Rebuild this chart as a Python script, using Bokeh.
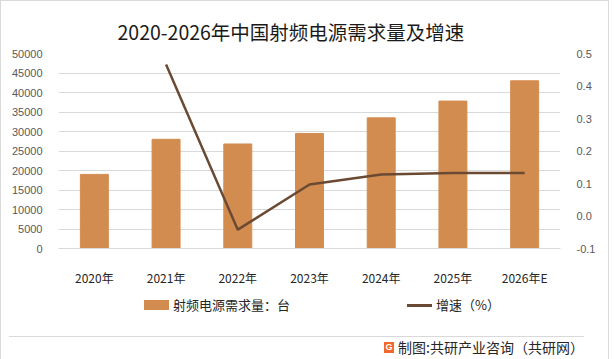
from bokeh.plotting import figure
from bokeh.models import (Range1d, LinearAxis, FixedTicker, PrintfTickFormatter,
                          BasicTickFormatter, Div)
from bokeh.layouts import column
from bokeh.embed import file_html
from bokeh.resources import INLINE

title_text = "2020-2026年中国射频电源需求量及增速"
source_text = "制图:共研产业咨询（共研网）"
series_names = ["射频电源需求量：台", "增速（%）"]
categories = ["2020年", "2021年", "2022年", "2023年", "2024年", "2025年", "2026年E"]
demand = [19000, 28000, 26800, 29500, 33500, 37800, 43000]
growth_cats = ["2021年", "2022年", "2023年", "2024年", "2025年", "2026年E"]
growth = [0.466, -0.042, 0.097, 0.128, 0.132, 0.132]
left_ticks = [0, 5000, 10000, 15000, 20000, 25000, 30000, 35000, 40000, 45000, 50000]
right_ticks = [-0.1, 0.0, 0.1, 0.2, 0.3, 0.4, 0.5]

BAR = "#D38C4F"
LINE = "#6B4A33"
FONT = "Noto Sans CJK SC"

p = figure(x_range=categories, y_range=Range1d(0, 50000),
           frame_width=502, frame_height=195,
           min_border_left=57, min_border_right=38, min_border_top=52, min_border_bottom=34,
           output_backend="svg", toolbar_location=None)
p.outline_line_color = None
p.background_fill_color = "white"
p.border_fill_color = "white"

p.title.text = title_text
p.title.text_font = FONT
p.title.text_font_size = "19.5px"
p.title.text_font_style = "normal"
p.title.text_color = "#1a1a1a"
p.title.align = "left"
p.title.offset = 59
p.title.standoff = 15

p.extra_y_ranges = {"g": Range1d(-0.1, 0.5)}

bars = p.vbar(x=categories, top=demand, width=0.39, color=BAR)
line = p.line(x=growth_cats, y=growth, y_range_name="g", line_color=LINE, line_width=2.5)

p.yaxis.ticker = FixedTicker(ticks=left_ticks)
p.yaxis.formatter = BasicTickFormatter(use_scientific=False)
p.yaxis.axis_line_color = None
p.yaxis.major_tick_line_color = None
p.yaxis.minor_tick_line_color = None
p.yaxis.major_label_text_font = "Liberation Sans"
p.yaxis.major_label_text_font_size = "11px"
p.yaxis.major_label_text_color = "#595959"
p.yaxis.major_label_standoff = 10

ra = LinearAxis(y_range_name="g", ticker=FixedTicker(ticks=right_ticks),
                formatter=PrintfTickFormatter(format="%.1f"))
ra.axis_line_color = None
ra.major_tick_line_color = None
ra.minor_tick_line_color = None
ra.major_label_text_font = "Liberation Sans"
ra.major_label_text_font_size = "11px"
ra.major_label_text_color = "#595959"
ra.major_label_standoff = 10
p.add_layout(ra, "right")

p.xaxis.axis_line_color = "#d9d9d9"
p.xaxis.major_tick_line_color = None
p.xaxis.minor_tick_line_color = None
p.xaxis.major_label_text_font = FONT
p.xaxis.major_label_text_font_size = "12px"
p.xaxis.major_label_text_color = "#262626"
p.xaxis.major_label_standoff = 14

p.xgrid.grid_line_color = None
p.ygrid.grid_line_color = "#d9d9d9"

item_style = ("position:absolute; top:4px; height:16px; display:flex; align-items:center; "
              "font-family:'Noto Sans CJK SC'; font-size:13px; color:#262626; white-space:nowrap;")
legend_html = (
    '<div style="position:relative; width:597px; height:33px;">'
    f'<div style="{item_style} left:138px;">'
    f'<span style="display:inline-block; width:25px; height:10px; background:{BAR}; margin-right:4px;"></span>'
    f'{series_names[0]}</div>'
    f'<div style="{item_style} left:401px;">'
    f'<span style="display:inline-block; width:25px; height:3px; background:{LINE}; margin-right:4px;"></span>'
    f'{series_names[1]}</div>'
    '</div>'
)
legend_div = Div(text=legend_html, width=597, height=33)

footer_html = (
    '<div style="border-top:1px solid #d9d9d9; margin-left:3px; width:575px; height:17px; '
    'padding-top:5px; display:flex; justify-content:flex-end; align-items:center; '
    "font-family:'Noto Sans CJK SC'; font-size:14px; line-height:17px; color:#262626;\">"
    '<span style="display:inline-block; width:10px; height:11px; background:#EF6A2A; color:white; '
    "font:bold 9px 'Liberation Sans'; text-align:center; line-height:11px; margin-right:4px;\">G</span>"
    + source_text + '</div>'
)
footer = Div(text=footer_html, width=597, height=23)

layout = column(p, legend_div, footer, spacing=0,
                styles={"border": "1px solid #d9d9d9", "background-color": "white"})

open("out.html", "w").write(file_html(layout, INLINE))
